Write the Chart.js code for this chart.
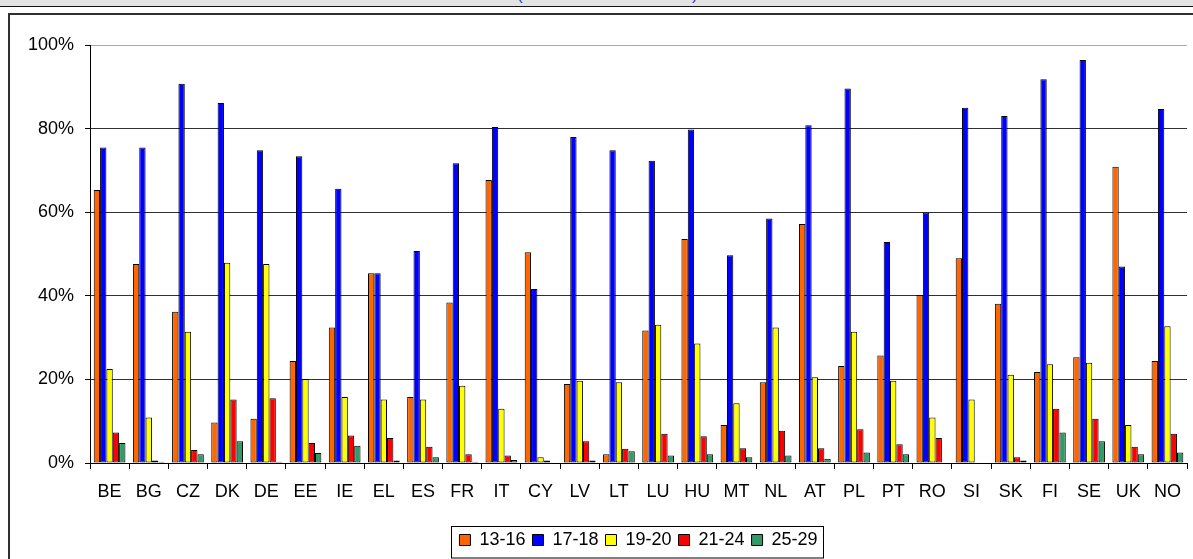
<!DOCTYPE html>
<html>
<head>
<meta charset="utf-8">
<script src="https://cdn.jsdelivr.net/npm/chart.js@4/dist/chart.umd.min.js"></script>
<style>
  html, body { margin: 0; padding: 0; background: #fff; overflow: hidden; }
  #page { position: relative; width: 1193px; height: 559px; overflow: hidden; font-family: "Liberation Sans", Arial, sans-serif; }
  #strip { position: absolute; left: 0; top: 0; width: 1193px; height: 6px; background: #e3e3e3; border-bottom: 1px solid #111; overflow: hidden; z-index: 2; }
  #strip span { position: absolute; top: -14px; font-size: 17px; line-height: 17px; color: #3a3ab8; }
  #ageChart { position: absolute; left: 0; top: 0; display: block; }
</style>
</head>
<body>
<div id="page">
  <canvas id="ageChart" width="1193" height="559"></canvas>
  <div id="strip"><span style="left:517px">(</span><span style="left:692px">)</span></div>
</div>
<script>
// data (share of each age group, %)
const countries = ['BE', 'BG', 'CZ', 'DK', 'DE', 'EE', 'IE', 'EL', 'ES', 'FR', 'IT', 'CY', 'LV', 'LT',
                   'LU', 'HU', 'MT', 'NL', 'AT', 'PL', 'PT', 'RO', 'SI', 'SK', 'FI', 'SE', 'UK', 'NO'];
const seriesNames = ['13-16', '17-18', '19-20', '21-24', '25-29'];
const age13_16 = [65.3, 47.6, 36.2, 9.7, 10.6, 24.4, 32.4, 45.4, 15.8, 38.4, 67.7, 50.4, 18.9, 2.1,
                  31.7, 53.6, 9.1, 19.3, 57.2, 23.2, 25.7, 40.2, 49.0, 38.1, 21.8, 25.3, 70.9, 24.4];
const age17_18 = [75.5, 75.5, 90.7, 86.1, 74.8, 73.4, 65.6, 45.4, 50.7, 71.7, 80.4, 41.6, 78.0, 74.8,
                  72.3, 79.8, 49.7, 58.5, 80.8, 89.6, 52.9, 59.9, 85.0, 83.0, 91.8, 96.4, 47.0, 84.7];
const age19_20 = [22.5, 10.9, 31.4, 47.9, 47.6, 20.1, 15.8, 15.2, 15.2, 18.5, 13.0, 1.4, 19.7, 19.3,
                  33.1, 28.6, 14.3, 32.4, 20.5, 31.4, 19.7, 10.9, 15.2, 21.1, 23.6, 24.0, 9.1, 32.7];
const age21_24 = [7.3, 0.6, 3.1, 15.2, 15.5, 4.8, 6.6, 6.0, 3.9, 2.1, 1.8, 0.6, 5.2, 3.4,
                  7.0, 6.4, 3.5, 7.7, 3.5, 8.1, 4.5, 6.0, 0, 1.4, 13.0, 10.6, 3.9, 7.0];
const age25_29 = [4.8, 0.3, 2.1, 5.2, 0.3, 2.4, 4.1, 0.6, 1.4, 0.3, 0.7, 0, 0.6, 2.8,
                  1.8, 2.1, 1.4, 1.8, 1.0, 2.5, 2.1, 0, 0, 0.6, 7.3, 5.2, 2.1, 2.5];
const yTicks = [0, 20, 40, 60, 80, 100];

const seriesValues = [age13_16, age17_18, age19_20, age21_24, age25_29];
const seriesColors = ['#ff6600', '#0000ff', '#ffff00', '#ff0000', '#339966'];
const fontFamily = '"Liberation Sans", Arial, sans-serif';

// outer frame of the spreadsheet chart object (left and top edges only show)
const chartFrame = {
    id: 'chartFrame',
    beforeDraw(chart) {
        const c = chart.ctx;
        c.save();
        c.fillStyle = '#fff';
        c.fillRect(0, 0, chart.width, chart.height);
        c.fillStyle = '#303030';
        c.fillRect(8, 13, chart.width - 8, 2);
        c.fillRect(8, 13, 2, chart.height - 13);
        c.restore();
    },
    afterDraw(chart) {
        // keep the strip right of the plot clean
        const c = chart.ctx;
        c.save();
        c.fillStyle = '#fff';
        c.fillRect(chart.chartArea.right + 1, 15, chart.width - chart.chartArea.right, chart.height - 15);
        c.restore();
    }
};

// box round the legend, like the spreadsheet one
const legendFrame = {
    id: 'legendFrame',
    afterDraw(chart) {
        const lg = chart.legend;
        const boxes = lg.legendHitBoxes;
        if (!boxes || !boxes.length) return;
        const last = boxes[boxes.length - 1];
        const left = Math.round(boxes[0].left - 8) + 0.5;
        const right = Math.round(last.left + last.width + 5) + 0.5;
        const top = Math.round(lg.top + 2) + 0.5;
        const c = chart.ctx;
        c.save();
        c.strokeStyle = '#000';
        c.lineWidth = 1;
        c.strokeRect(left, top, right - left, 558 - top);
        c.restore();
    }
};

const ctx = document.getElementById('ageChart').getContext('2d');
const ageChart = new Chart(ctx, {
    type: 'bar',
    data: {
        labels: countries,
        datasets: seriesNames.map((name, i) => ({
            label: name,
            data: seriesValues[i],
            backgroundColor: seriesColors[i],
            borderColor: '#000',
            borderWidth: 1,
            borderSkipped: false,
            categoryPercentage: 0.81,
            barPercentage: 1.0
        }))
    },
    options: {
        responsive: false,
        animation: false,
        layout: { padding: { top: 45, right: 3, left: 0, bottom: 0 } },
        plugins: {
            legend: {
                position: 'bottom',
                fullSize: false,
                labels: {
                    color: '#000',
                    boxWidth: 11,
                    boxHeight: 11,
                    padding: 7,
                    font: { family: fontFamily, size: 18 }
                }
            },
            tooltip: { enabled: false }
        },
        scales: {
            x: {
                grid: {
                    offset: true,
                    drawOnChartArea: false,
                    tickLength: 6,
                    tickColor: '#000'
                },
                border: { color: '#000', width: 1 },
                ticks: {
                    color: '#000',
                    autoSkip: false,
                    maxRotation: 0,
                    padding: 12,
                    font: { family: fontFamily, size: 18 }
                },
                afterFit: (s) => { s.height = 61; }
            },
            y: {
                min: 0,
                max: 100,
                afterBuildTicks: (s) => { s.ticks = yTicks.map(v => ({ value: v })); },
                ticks: {
                    color: '#000',
                    padding: 11,
                    callback: (v) => v + '%',
                    font: { family: fontFamily, size: 18 }
                },
                grid: {
                    color: (c) => (c.tick && c.tick.value === 100) ? '#a8a8a8' : '#303030',
                    tickColor: '#000',
                    tickLength: 5
                },
                border: { color: '#000', width: 1 },
                afterFit: (s) => { s.width = 90; }
            }
        }
    },
    plugins: [chartFrame, legendFrame]
});
</script>
</body>
</html>
